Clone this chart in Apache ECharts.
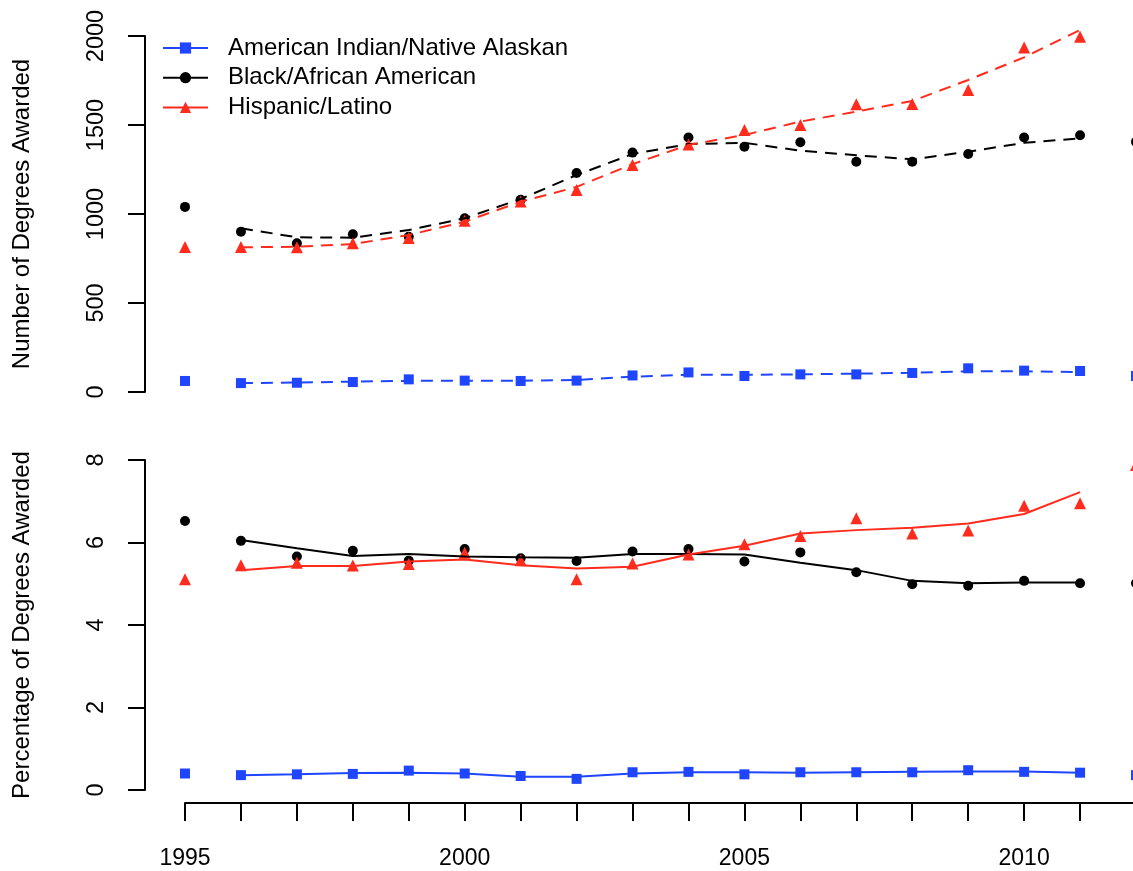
<!DOCTYPE html>
<html>
<head>
<meta charset="utf-8">
<script src="https://cdn.jsdelivr.net/npm/echarts@6/dist/echarts.min.js"></script>
<style>
  html, body { margin: 0; padding: 0; background: #fff; overflow: hidden; }
  #chart { width: 1150px; height: 871px; }
</style>
</head>
<body>
<div id="chart"></div>
<script>
var years = [1995, 1996, 1997, 1998, 1999, 2000, 2001, 2002, 2003, 2004, 2005, 2006, 2007, 2008, 2009, 2010, 2011, 2012];
var fitYears = [1996, 1997, 1998, 1999, 2000, 2001, 2002, 2003, 2004, 2005, 2006, 2007, 2008, 2009, 2010, 2011];

var groups = ['American Indian/Native Alaskan', 'Black/African American', 'Hispanic/Latino'];

// degrees awarded (counts)
var countIndian   = [62, 50, 52, 56, 71, 64, 62, 64, 93, 110, 90, 99, 99, 107, 133, 120, 118, 90];
var countBlack    = [1040, 900, 835, 886, 872, 976, 1080, 1230, 1345, 1430, 1378, 1403, 1294, 1294, 1337, 1430, 1442, 1405];
var countHispanic = [815, 815, 813, 835, 865, 962, 1070, 1135, 1275, 1390, 1472, 1500, 1616, 1618, 1697, 1936, 1996, 2250];

var fitCountIndian   = [50, 53, 58, 63, 63, 63, 68, 86, 97, 97, 99, 103, 108, 116, 116, 112];
var fitCountBlack    = [920, 869, 867, 910, 976, 1084, 1219, 1337, 1393, 1400, 1356, 1330, 1307, 1350, 1400, 1425];
var fitCountHispanic = [813, 816, 831, 882, 957, 1069, 1152, 1280, 1388, 1444, 1519, 1575, 1635, 1753, 1880, 2034];

// percentage of degrees awarded
var pctIndian   = [0.40, 0.36, 0.38, 0.39, 0.47, 0.40, 0.34, 0.27, 0.43, 0.44, 0.38, 0.43, 0.43, 0.43, 0.48, 0.44, 0.42, 0.36];
var pctBlack    = [6.52, 6.04, 5.66, 5.80, 5.56, 5.84, 5.62, 5.55, 5.78, 5.84, 5.54, 5.76, 5.28, 4.99, 4.95, 5.07, 5.01, 5.01];
var pctHispanic = [5.11, 5.45, 5.51, 5.44, 5.48, 5.75, 5.57, 5.11, 5.49, 5.71, 5.96, 6.16, 6.59, 6.22, 6.29, 6.89, 6.95, 7.88];

var fitPctIndian   = [0.36, 0.38, 0.41, 0.42, 0.40, 0.32, 0.32, 0.40, 0.43, 0.43, 0.42, 0.43, 0.44, 0.45, 0.45, 0.42];
var fitPctBlack    = [6.06, 5.86, 5.67, 5.72, 5.66, 5.64, 5.63, 5.72, 5.72, 5.71, 5.51, 5.33, 5.07, 5.01, 5.03, 5.03];
var fitPctHispanic = [5.33, 5.43, 5.43, 5.54, 5.59, 5.45, 5.37, 5.41, 5.71, 5.92, 6.22, 6.30, 6.36, 6.46, 6.69, 7.22];

var colors = ['#1f45ff', '#000000', '#ff2b1c'];
var symbols = ['rect', 'circle', 'triangle'];
var symbolSizes = [10, 10, 12];
var font = "'Liberation Sans', Arial, sans-serif";

function pairs(xs, ys) {
  return xs.map(function (x, i) { return [x, ys[i]]; });
}

var counts = [countIndian, countBlack, countHispanic];
var fitCounts = [fitCountIndian, fitCountBlack, fitCountHispanic];
var pcts = [pctIndian, pctBlack, pctHispanic];
var fitPcts = [fitPctIndian, fitPctBlack, fitPctHispanic];

var series = [];
// fitted lines first so the legend takes its icon from them
[0, 1].forEach(function (panel) {
  groups.forEach(function (name, i) {
    series.push({
      name: name,
      type: 'line',
      xAxisIndex: panel,
      yAxisIndex: panel,
      data: pairs(fitYears, panel === 0 ? fitCounts[i] : fitPcts[i]),
      symbol: symbols[i],
      showSymbol: false,
      clip: false,
      silent: true,
      itemStyle: { color: colors[i] },
      lineStyle: { color: colors[i], width: 2, type: panel === 0 ? [12, 8] : 'solid' }
    });
  });
});
[0, 1].forEach(function (panel) {
  groups.forEach(function (name, i) {
    series.push({
      name: name,
      type: 'scatter',
      xAxisIndex: panel,
      yAxisIndex: panel,
      data: pairs(years, panel === 0 ? counts[i] : pcts[i]),
      symbol: symbols[i],
      symbolSize: symbolSizes[i],
      clip: false,
      silent: true,
      itemStyle: { color: colors[i], opacity: 1 }
    });
  });
});

function yAxisFor(panel, max, interval, title) {
  return {
    gridIndex: panel,
    type: 'value',
    min: 0,
    max: max,
    interval: interval,
    offset: 40,
    name: title,
    nameLocation: 'middle',
    nameRotate: 90,
    nameGap: 111,
    nameTextStyle: { fontSize: 24, color: '#000', fontFamily: font },
    axisLine: { show: true, onZero: false, lineStyle: { color: '#000', width: 2 } },
    axisTick: { show: true, length: 17, lineStyle: { color: '#000', width: 2 } },
    axisLabel: {
      rotate: 90, margin: 36, fontSize: 23.5, color: '#000', fontFamily: font,
      formatter: function (v) { return String(v); }
    },
    splitLine: { show: false }
  };
}

var chart = echarts.init(document.getElementById('chart'));
chart.setOption({
  animation: false,
  backgroundColor: '#fff',
  legend: {
    orient: 'vertical',
    left: 157,
    top: 31,
    itemWidth: 45,
    itemHeight: 14,
    itemGap: 5.7,
    data: groups,
    lineStyle: { type: 'solid', width: 2 },
    textStyle: { fontSize: 24, lineHeight: 23, color: '#000', fontFamily: font, padding: [0, 0, 0, 15] }
  },
  grid: [
    { left: 185, top: 36, width: 951, height: 356 },
    { left: 185, top: 460, width: 951, height: 330 }
  ],
  xAxis: [
    { gridIndex: 0, type: 'value', min: 1995, max: 2012, show: false },
    {
      gridIndex: 1,
      type: 'value',
      min: 1995,
      max: 2012,
      interval: 1,
      offset: 13,
      axisLine: { show: true, onZero: false, lineStyle: { color: '#000', width: 2 } },
      axisTick: { show: true, length: 18, lineStyle: { color: '#000', width: 2 } },
      axisLabel: {
        margin: 44,
        fontSize: 23,
        color: '#000',
        fontFamily: font,
        formatter: function (v) { return v % 5 === 0 ? String(v) : ''; }
      },
      splitLine: { show: false }
    }
  ],
  yAxis: [
    yAxisFor(0, 2000, 500, 'Number of Degrees Awarded'),
    yAxisFor(1, 8, 2, 'Percentage of Degrees Awarded')
  ],
  series: series
});
</script>
</body>
</html>
